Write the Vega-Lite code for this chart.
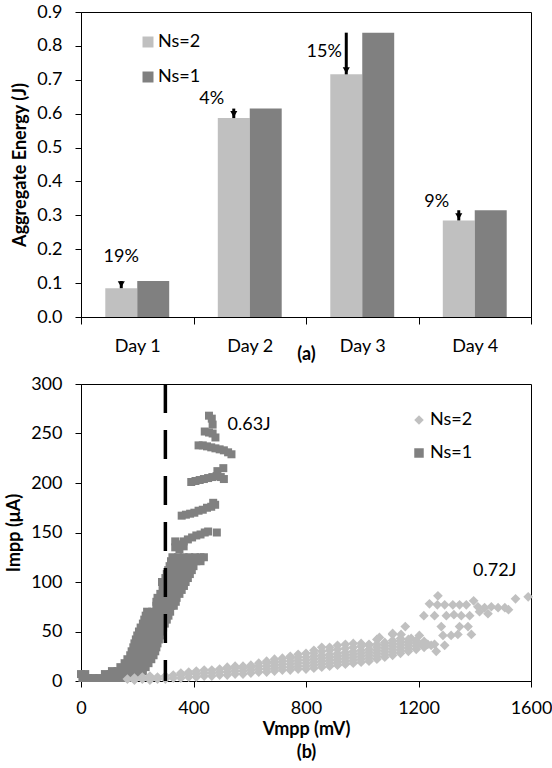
{
"$schema": "https://vega.github.io/schema/vega-lite/v6.json",
"padding": {"left": 5, "top": 2, "right": 0, "bottom": 0},
"bounds": "flush",
"spacing": 67,
"config": {
  "font": "Lato",
  "view": {"stroke": "#000", "strokeWidth": 1},
  "axis": {"labelFont": "Lato", "labelFontSize": 18, "labelColor": "#000", "titleFont": "Lato", "titleFontSize": 18, "titleFontWeight": "bold", "titleColor": "#000", "domainColor": "#000", "tickColor": "#000", "tickSize": 6, "labelPadding": 13, "grid": false, "labelOverlap": false},
  "legend": {"labelFont": "Lato", "labelFontSize": 18, "labelColor": "#000", "padding": 0, "symbolStrokeWidth": 0},
  "text": {"font": "Lato", "fontSize": 18, "color": "#000"}
},
"resolve": {"scale": {"color": "independent", "shape": "independent"}, "legend": {"color": "independent", "shape": "independent"}},
"datasets": {
  "bars": [
    {"Day": "Day 1", "Ns": "Ns=2", "E": 0.085}, {"Day": "Day 1", "Ns": "Ns=1", "E": 0.106},
    {"Day": "Day 2", "Ns": "Ns=2", "E": 0.587}, {"Day": "Day 2", "Ns": "Ns=1", "E": 0.615},
    {"Day": "Day 3", "Ns": "Ns=2", "E": 0.716}, {"Day": "Day 3", "Ns": "Ns=1", "E": 0.839},
    {"Day": "Day 4", "Ns": "Ns=2", "E": 0.285}, {"Day": "Day 4", "Ns": "Ns=1", "E": 0.315}
  ],
  "arrows": [
    {"Day": "Day 1", "Ns": "Ns=2", "from": 0.106, "to": 0.085},
    {"Day": "Day 2", "Ns": "Ns=2", "from": 0.615, "to": 0.587},
    {"Day": "Day 3", "Ns": "Ns=2", "from": 0.839, "to": 0.716},
    {"Day": "Day 4", "Ns": "Ns=2", "from": 0.315, "to": 0.285}
  ],
  "pct": [
    {"Day": "Day 1", "Ns": "Ns=2", "y": 0.176, "label": "19%"},
    {"Day": "Day 2", "Ns": "Ns=2", "y": 0.644, "label": "4%"},
    {"Day": "Day 3", "Ns": "Ns=2", "y": 0.783, "label": "15%"},
    {"Day": "Day 4", "Ns": "Ns=2", "y": 0.340, "label": "9%"}
  ],
  "vline": [{"V": 300}],
  "notes": [{"V": 521, "I": 259, "label": "0.63J"}, {"V": 1394, "I": 111, "label": "0.72J"}],
  "scatter": [
    {"Ns":"Ns=1","V":5,"I":3},{"Ns":"Ns=1","V":25,"I":3},{"Ns":"Ns=1","V":45,"I":3},{"Ns":"Ns=1","V":65,"I":3},{"Ns":"Ns=1","V":85,"I":3},{"Ns":"Ns=1","V":105,"I":3},{"Ns":"Ns=1","V":125,"I":3},{"Ns":"Ns=1","V":145,"I":3},{"Ns":"Ns=1","V":165,"I":3},{"Ns":"Ns=1","V":185,"I":3},
    {"Ns":"Ns=1","V":0,"I":7},{"Ns":"Ns=1","V":15,"I":7},{"Ns":"Ns=1","V":85,"I":7},{"Ns":"Ns=1","V":105,"I":7},{"Ns":"Ns=1","V":125,"I":7},{"Ns":"Ns=1","V":145,"I":7},{"Ns":"Ns=1","V":165,"I":7},{"Ns":"Ns=1","V":185,"I":7},{"Ns":"Ns=1","V":200,"I":7},
    {"Ns":"Ns=1","V":110,"I":10},{"Ns":"Ns=1","V":130,"I":10},{"Ns":"Ns=1","V":150,"I":10},{"Ns":"Ns=1","V":170,"I":10},{"Ns":"Ns=1","V":190,"I":10},{"Ns":"Ns=1","V":208,"I":10},{"Ns":"Ns=1","V":220,"I":10},
    {"Ns":"Ns=1","V":140,"I":14},{"Ns":"Ns=1","V":160,"I":14},{"Ns":"Ns=1","V":180,"I":14},{"Ns":"Ns=1","V":200,"I":14},{"Ns":"Ns=1","V":220,"I":14},{"Ns":"Ns=1","V":230,"I":14},
    {"Ns":"Ns=1","V":155,"I":18},{"Ns":"Ns=1","V":172,"I":18},{"Ns":"Ns=1","V":190,"I":18},{"Ns":"Ns=1","V":208,"I":18},{"Ns":"Ns=1","V":226,"I":18},{"Ns":"Ns=1","V":240,"I":18},
    {"Ns":"Ns=1","V":165,"I":22},{"Ns":"Ns=1","V":182,"I":22},{"Ns":"Ns=1","V":200,"I":22},{"Ns":"Ns=1","V":218,"I":22},{"Ns":"Ns=1","V":236,"I":22},{"Ns":"Ns=1","V":250,"I":22},
    {"Ns":"Ns=1","V":175,"I":26},{"Ns":"Ns=1","V":192,"I":26},{"Ns":"Ns=1","V":210,"I":26},{"Ns":"Ns=1","V":228,"I":26},{"Ns":"Ns=1","V":246,"I":26},{"Ns":"Ns=1","V":258,"I":26},
    {"Ns":"Ns=1","V":180,"I":30},{"Ns":"Ns=1","V":198,"I":30},{"Ns":"Ns=1","V":216,"I":30},{"Ns":"Ns=1","V":234,"I":30},{"Ns":"Ns=1","V":252,"I":30},{"Ns":"Ns=1","V":264,"I":30},
    {"Ns":"Ns=1","V":186,"I":34},{"Ns":"Ns=1","V":204,"I":34},{"Ns":"Ns=1","V":222,"I":34},{"Ns":"Ns=1","V":240,"I":34},{"Ns":"Ns=1","V":258,"I":34},{"Ns":"Ns=1","V":268,"I":34},
    {"Ns":"Ns=1","V":190,"I":38},{"Ns":"Ns=1","V":208,"I":38},{"Ns":"Ns=1","V":226,"I":38},{"Ns":"Ns=1","V":244,"I":38},{"Ns":"Ns=1","V":262,"I":38},{"Ns":"Ns=1","V":272,"I":38},
    {"Ns":"Ns=1","V":195,"I":42},{"Ns":"Ns=1","V":213,"I":42},{"Ns":"Ns=1","V":231,"I":42},{"Ns":"Ns=1","V":249,"I":42},{"Ns":"Ns=1","V":267,"I":42},{"Ns":"Ns=1","V":277,"I":42},
    {"Ns":"Ns=1","V":200,"I":46},{"Ns":"Ns=1","V":218,"I":46},{"Ns":"Ns=1","V":236,"I":46},{"Ns":"Ns=1","V":254,"I":46},{"Ns":"Ns=1","V":272,"I":46},{"Ns":"Ns=1","V":280,"I":46},
    {"Ns":"Ns=1","V":206,"I":50},{"Ns":"Ns=1","V":224,"I":50},{"Ns":"Ns=1","V":242,"I":50},{"Ns":"Ns=1","V":260,"I":50},{"Ns":"Ns=1","V":278,"I":50},{"Ns":"Ns=1","V":286,"I":50},
    {"Ns":"Ns=1","V":212,"I":54},{"Ns":"Ns=1","V":230,"I":54},{"Ns":"Ns=1","V":248,"I":54},{"Ns":"Ns=1","V":266,"I":54},{"Ns":"Ns=1","V":284,"I":54},{"Ns":"Ns=1","V":292,"I":54},
    {"Ns":"Ns=1","V":220,"I":58},{"Ns":"Ns=1","V":238,"I":58},{"Ns":"Ns=1","V":256,"I":58},{"Ns":"Ns=1","V":274,"I":58},{"Ns":"Ns=1","V":292,"I":58},{"Ns":"Ns=1","V":298,"I":58},
    {"Ns":"Ns=1","V":225,"I":62},{"Ns":"Ns=1","V":243,"I":62},{"Ns":"Ns=1","V":261,"I":62},{"Ns":"Ns=1","V":279,"I":62},{"Ns":"Ns=1","V":297,"I":62},{"Ns":"Ns=1","V":305,"I":62},
    {"Ns":"Ns=1","V":230,"I":66},{"Ns":"Ns=1","V":248,"I":66},{"Ns":"Ns=1","V":266,"I":66},{"Ns":"Ns=1","V":284,"I":66},{"Ns":"Ns=1","V":302,"I":66},{"Ns":"Ns=1","V":311,"I":66},
    {"Ns":"Ns=1","V":235,"I":70},{"Ns":"Ns=1","V":253,"I":70},{"Ns":"Ns=1","V":271,"I":70},{"Ns":"Ns=1","V":289,"I":70},{"Ns":"Ns=1","V":307,"I":70},{"Ns":"Ns=1","V":317,"I":70},
    {"Ns":"Ns=1","V":268,"I":76},{"Ns":"Ns=1","V":285,"I":76},{"Ns":"Ns=1","V":303,"I":76},{"Ns":"Ns=1","V":321,"I":76},{"Ns":"Ns=1","V":330,"I":76},
    {"Ns":"Ns=1","V":268,"I":80},{"Ns":"Ns=1","V":285,"I":80},{"Ns":"Ns=1","V":303,"I":80},{"Ns":"Ns=1","V":321,"I":80},{"Ns":"Ns=1","V":337,"I":80},
    {"Ns":"Ns=1","V":272,"I":84},{"Ns":"Ns=1","V":290,"I":84},{"Ns":"Ns=1","V":308,"I":84},{"Ns":"Ns=1","V":326,"I":84},{"Ns":"Ns=1","V":340,"I":84},
    {"Ns":"Ns=1","V":282,"I":88},{"Ns":"Ns=1","V":300,"I":88},{"Ns":"Ns=1","V":318,"I":88},{"Ns":"Ns=1","V":336,"I":88},{"Ns":"Ns=1","V":350,"I":88},
    {"Ns":"Ns=1","V":290,"I":92},{"Ns":"Ns=1","V":308,"I":92},{"Ns":"Ns=1","V":326,"I":92},{"Ns":"Ns=1","V":344,"I":92},{"Ns":"Ns=1","V":358,"I":92},
    {"Ns":"Ns=1","V":294,"I":96},{"Ns":"Ns=1","V":312,"I":96},{"Ns":"Ns=1","V":330,"I":96},{"Ns":"Ns=1","V":348,"I":96},{"Ns":"Ns=1","V":366,"I":96},
    {"Ns":"Ns=1","V":288,"I":100},{"Ns":"Ns=1","V":300,"I":100},{"Ns":"Ns=1","V":318,"I":100},{"Ns":"Ns=1","V":336,"I":100},{"Ns":"Ns=1","V":354,"I":100},{"Ns":"Ns=1","V":372,"I":100},
    {"Ns":"Ns=1","V":300,"I":104},{"Ns":"Ns=1","V":318,"I":104},{"Ns":"Ns=1","V":336,"I":104},{"Ns":"Ns=1","V":354,"I":104},{"Ns":"Ns=1","V":372,"I":104},{"Ns":"Ns=1","V":380,"I":104},
    {"Ns":"Ns=1","V":305,"I":108},{"Ns":"Ns=1","V":323,"I":108},{"Ns":"Ns=1","V":341,"I":108},{"Ns":"Ns=1","V":359,"I":108},{"Ns":"Ns=1","V":377,"I":108},{"Ns":"Ns=1","V":387,"I":108},
    {"Ns":"Ns=1","V":310,"I":112},{"Ns":"Ns=1","V":328,"I":112},{"Ns":"Ns=1","V":346,"I":112},{"Ns":"Ns=1","V":364,"I":112},{"Ns":"Ns=1","V":382,"I":112},{"Ns":"Ns=1","V":394,"I":112},
    {"Ns":"Ns=1","V":315,"I":116},{"Ns":"Ns=1","V":333,"I":116},{"Ns":"Ns=1","V":351,"I":116},{"Ns":"Ns=1","V":369,"I":116},{"Ns":"Ns=1","V":387,"I":116},{"Ns":"Ns=1","V":400,"I":116},
    {"Ns":"Ns=1","V":320,"I":121},{"Ns":"Ns=1","V":338,"I":121},{"Ns":"Ns=1","V":356,"I":121},{"Ns":"Ns=1","V":374,"I":121},{"Ns":"Ns=1","V":392,"I":121},{"Ns":"Ns=1","V":410,"I":121},{"Ns":"Ns=1","V":425,"I":121},
    {"Ns":"Ns=1","V":325,"I":125},{"Ns":"Ns=1","V":345,"I":125},{"Ns":"Ns=1","V":365,"I":125},{"Ns":"Ns=1","V":385,"I":125},{"Ns":"Ns=1","V":405,"I":125},{"Ns":"Ns=1","V":425,"I":125},{"Ns":"Ns=1","V":437,"I":125},
    {"Ns":"Ns=1","V":335,"I":135},{"Ns":"Ns=1","V":335,"I":141},{"Ns":"Ns=1","V":350,"I":133},{"Ns":"Ns=1","V":350,"I":138},{"Ns":"Ns=1","V":365,"I":136},{"Ns":"Ns=1","V":365,"I":141},{"Ns":"Ns=1","V":380,"I":143},{"Ns":"Ns=1","V":395,"I":145},{"Ns":"Ns=1","V":410,"I":147},{"Ns":"Ns=1","V":425,"I":148},{"Ns":"Ns=1","V":440,"I":150},{"Ns":"Ns=1","V":452,"I":151},{"Ns":"Ns=1","V":483,"I":150},
    {"Ns":"Ns=1","V":358,"I":167},{"Ns":"Ns=1","V":373,"I":168},{"Ns":"Ns=1","V":388,"I":169},{"Ns":"Ns=1","V":403,"I":170},{"Ns":"Ns=1","V":418,"I":172},{"Ns":"Ns=1","V":433,"I":173},{"Ns":"Ns=1","V":448,"I":175},{"Ns":"Ns=1","V":463,"I":176},{"Ns":"Ns=1","V":477,"I":178},{"Ns":"Ns=1","V":470,"I":180},
    {"Ns":"Ns=1","V":392,"I":201},{"Ns":"Ns=1","V":407,"I":202},{"Ns":"Ns=1","V":422,"I":203},{"Ns":"Ns=1","V":437,"I":204},{"Ns":"Ns=1","V":452,"I":205},{"Ns":"Ns=1","V":467,"I":206},{"Ns":"Ns=1","V":482,"I":207},{"Ns":"Ns=1","V":497,"I":206},{"Ns":"Ns=1","V":508,"I":204},{"Ns":"Ns=1","V":485,"I":212},{"Ns":"Ns=1","V":506,"I":215},
    {"Ns":"Ns=1","V":418,"I":238},{"Ns":"Ns=1","V":433,"I":238},{"Ns":"Ns=1","V":448,"I":237},{"Ns":"Ns=1","V":463,"I":236},{"Ns":"Ns=1","V":478,"I":235},{"Ns":"Ns=1","V":493,"I":234},{"Ns":"Ns=1","V":508,"I":233},{"Ns":"Ns=1","V":523,"I":231},{"Ns":"Ns=1","V":535,"I":229},
    {"Ns":"Ns=1","V":455,"I":268},{"Ns":"Ns=1","V":465,"I":265},{"Ns":"Ns=1","V":468,"I":259},{"Ns":"Ns=1","V":440,"I":252},{"Ns":"Ns=1","V":455,"I":251},{"Ns":"Ns=1","V":468,"I":250},{"Ns":"Ns=1","V":478,"I":246},

    {"Ns":"Ns=2","V":165,"I":2},{"Ns":"Ns=2","V":190,"I":1},{"Ns":"Ns=2","V":190,"I":3},{"Ns":"Ns=2","V":218,"I":2},{"Ns":"Ns=2","V":218,"I":4},{"Ns":"Ns=2","V":245,"I":1},{"Ns":"Ns=2","V":245,"I":3},{"Ns":"Ns=2","V":245,"I":5},
    {"Ns":"Ns=2","V":272,"I":2},{"Ns":"Ns=2","V":272,"I":4},{"Ns":"Ns=2","V":300,"I":2},{"Ns":"Ns=2","V":300,"I":5},{"Ns":"Ns=2","V":328,"I":3},{"Ns":"Ns=2","V":328,"I":6},
    {"Ns":"Ns=2","V":355,"I":3},{"Ns":"Ns=2","V":355,"I":6},{"Ns":"Ns=2","V":355,"I":8},{"Ns":"Ns=2","V":383,"I":4},{"Ns":"Ns=2","V":383,"I":7},{"Ns":"Ns=2","V":383,"I":9},
    {"Ns":"Ns=2","V":410,"I":4},{"Ns":"Ns=2","V":410,"I":7},{"Ns":"Ns=2","V":410,"I":10},{"Ns":"Ns=2","V":438,"I":5},{"Ns":"Ns=2","V":438,"I":8},{"Ns":"Ns=2","V":438,"I":11},
    {"Ns":"Ns=2","V":465,"I":5},{"Ns":"Ns=2","V":465,"I":8},{"Ns":"Ns=2","V":465,"I":11},{"Ns":"Ns=2","V":493,"I":6},{"Ns":"Ns=2","V":493,"I":9},{"Ns":"Ns=2","V":493,"I":12},
    {"Ns":"Ns=2","V":520,"I":6},{"Ns":"Ns=2","V":520,"I":9},{"Ns":"Ns=2","V":520,"I":12},{"Ns":"Ns=2","V":520,"I":14},
    {"Ns":"Ns=2","V":548,"I":7},{"Ns":"Ns=2","V":548,"I":10},{"Ns":"Ns=2","V":548,"I":13},{"Ns":"Ns=2","V":548,"I":15},
    {"Ns":"Ns=2","V":576,"I":7},{"Ns":"Ns=2","V":576,"I":10},{"Ns":"Ns=2","V":576,"I":13},{"Ns":"Ns=2","V":576,"I":15},
    {"Ns":"Ns=2","V":604,"I":8},{"Ns":"Ns=2","V":604,"I":11},{"Ns":"Ns=2","V":604,"I":14},{"Ns":"Ns=2","V":604,"I":16},
    {"Ns":"Ns=2","V":632,"I":9},{"Ns":"Ns=2","V":632,"I":12},{"Ns":"Ns=2","V":632,"I":15},{"Ns":"Ns=2","V":632,"I":18},
    {"Ns":"Ns=2","V":660,"I":9},{"Ns":"Ns=2","V":660,"I":12},{"Ns":"Ns=2","V":660,"I":15},{"Ns":"Ns=2","V":660,"I":18},{"Ns":"Ns=2","V":660,"I":20},
    {"Ns":"Ns=2","V":688,"I":10},{"Ns":"Ns=2","V":688,"I":13},{"Ns":"Ns=2","V":688,"I":16},{"Ns":"Ns=2","V":688,"I":19},{"Ns":"Ns=2","V":688,"I":22},
    {"Ns":"Ns=2","V":716,"I":11},{"Ns":"Ns=2","V":716,"I":14},{"Ns":"Ns=2","V":716,"I":17},{"Ns":"Ns=2","V":716,"I":20},{"Ns":"Ns=2","V":716,"I":23},
    {"Ns":"Ns=2","V":744,"I":11},{"Ns":"Ns=2","V":744,"I":14},{"Ns":"Ns=2","V":744,"I":17},{"Ns":"Ns=2","V":744,"I":20},{"Ns":"Ns=2","V":744,"I":23},{"Ns":"Ns=2","V":744,"I":25},
    {"Ns":"Ns=2","V":772,"I":12},{"Ns":"Ns=2","V":772,"I":15},{"Ns":"Ns=2","V":772,"I":18},{"Ns":"Ns=2","V":772,"I":21},{"Ns":"Ns=2","V":772,"I":24},{"Ns":"Ns=2","V":772,"I":27},
    {"Ns":"Ns=2","V":800,"I":12},{"Ns":"Ns=2","V":800,"I":15},{"Ns":"Ns=2","V":800,"I":18},{"Ns":"Ns=2","V":800,"I":21},{"Ns":"Ns=2","V":800,"I":24},{"Ns":"Ns=2","V":800,"I":28},
    {"Ns":"Ns=2","V":828,"I":13},{"Ns":"Ns=2","V":828,"I":16},{"Ns":"Ns=2","V":828,"I":19},{"Ns":"Ns=2","V":828,"I":22},{"Ns":"Ns=2","V":828,"I":25},{"Ns":"Ns=2","V":828,"I":28},{"Ns":"Ns=2","V":828,"I":31},
    {"Ns":"Ns=2","V":856,"I":14},{"Ns":"Ns=2","V":856,"I":17},{"Ns":"Ns=2","V":856,"I":20},{"Ns":"Ns=2","V":856,"I":23},{"Ns":"Ns=2","V":856,"I":26},{"Ns":"Ns=2","V":856,"I":30},{"Ns":"Ns=2","V":856,"I":34},
    {"Ns":"Ns=2","V":884,"I":15},{"Ns":"Ns=2","V":884,"I":18},{"Ns":"Ns=2","V":884,"I":21},{"Ns":"Ns=2","V":884,"I":24},{"Ns":"Ns=2","V":884,"I":27},{"Ns":"Ns=2","V":884,"I":31},{"Ns":"Ns=2","V":884,"I":34},
    {"Ns":"Ns=2","V":912,"I":16},{"Ns":"Ns=2","V":912,"I":19},{"Ns":"Ns=2","V":912,"I":22},{"Ns":"Ns=2","V":912,"I":25},{"Ns":"Ns=2","V":912,"I":28},{"Ns":"Ns=2","V":912,"I":32},{"Ns":"Ns=2","V":912,"I":36},
    {"Ns":"Ns=2","V":940,"I":17},{"Ns":"Ns=2","V":940,"I":20},{"Ns":"Ns=2","V":940,"I":23},{"Ns":"Ns=2","V":940,"I":26},{"Ns":"Ns=2","V":940,"I":29},{"Ns":"Ns=2","V":940,"I":33},{"Ns":"Ns=2","V":940,"I":37},
    {"Ns":"Ns=2","V":968,"I":18},{"Ns":"Ns=2","V":968,"I":21},{"Ns":"Ns=2","V":968,"I":24},{"Ns":"Ns=2","V":968,"I":27},{"Ns":"Ns=2","V":968,"I":30},{"Ns":"Ns=2","V":968,"I":34},{"Ns":"Ns=2","V":968,"I":38},
    {"Ns":"Ns=2","V":996,"I":19},{"Ns":"Ns=2","V":996,"I":22},{"Ns":"Ns=2","V":996,"I":25},{"Ns":"Ns=2","V":996,"I":28},{"Ns":"Ns=2","V":996,"I":31},{"Ns":"Ns=2","V":996,"I":35},{"Ns":"Ns=2","V":996,"I":38},
    {"Ns":"Ns=2","V":1024,"I":20},{"Ns":"Ns=2","V":1024,"I":23},{"Ns":"Ns=2","V":1024,"I":26},{"Ns":"Ns=2","V":1024,"I":29},{"Ns":"Ns=2","V":1024,"I":32},{"Ns":"Ns=2","V":1024,"I":36},{"Ns":"Ns=2","V":1024,"I":37},
    {"Ns":"Ns=2","V":1052,"I":22},{"Ns":"Ns=2","V":1052,"I":25},{"Ns":"Ns=2","V":1052,"I":28},{"Ns":"Ns=2","V":1052,"I":31},{"Ns":"Ns=2","V":1052,"I":34},{"Ns":"Ns=2","V":1052,"I":37},{"Ns":"Ns=2","V":1052,"I":42},
    {"Ns":"Ns=2","V":1080,"I":24},{"Ns":"Ns=2","V":1080,"I":27},{"Ns":"Ns=2","V":1080,"I":30},{"Ns":"Ns=2","V":1080,"I":33},{"Ns":"Ns=2","V":1080,"I":36},{"Ns":"Ns=2","V":1080,"I":39},
    {"Ns":"Ns=2","V":1108,"I":26},{"Ns":"Ns=2","V":1108,"I":29},{"Ns":"Ns=2","V":1108,"I":32},{"Ns":"Ns=2","V":1108,"I":35},{"Ns":"Ns=2","V":1108,"I":38},{"Ns":"Ns=2","V":1108,"I":41},{"Ns":"Ns=2","V":1108,"I":47},
    {"Ns":"Ns=2","V":1136,"I":28},{"Ns":"Ns=2","V":1136,"I":31},{"Ns":"Ns=2","V":1136,"I":34},{"Ns":"Ns=2","V":1136,"I":37},{"Ns":"Ns=2","V":1136,"I":40},{"Ns":"Ns=2","V":1136,"I":43},
    {"Ns":"Ns=2","V":1164,"I":30},{"Ns":"Ns=2","V":1164,"I":33},{"Ns":"Ns=2","V":1164,"I":36},{"Ns":"Ns=2","V":1164,"I":39},{"Ns":"Ns=2","V":1164,"I":42},
    {"Ns":"Ns=2","V":1192,"I":32},{"Ns":"Ns=2","V":1192,"I":35},{"Ns":"Ns=2","V":1192,"I":38},{"Ns":"Ns=2","V":1192,"I":41},
    {"Ns":"Ns=2","V":1220,"I":34},{"Ns":"Ns=2","V":1220,"I":37},{"Ns":"Ns=2","V":1220,"I":40},{"Ns":"Ns=2","V":1245,"I":36},
    {"Ns":"Ns=2","V":1269,"I":86},{"Ns":"Ns=2","V":1239,"I":78},{"Ns":"Ns=2","V":1267,"I":77},{"Ns":"Ns=2","V":1293,"I":77},{"Ns":"Ns=2","V":1322,"I":77},{"Ns":"Ns=2","V":1346,"I":77},{"Ns":"Ns=2","V":1370,"I":77},{"Ns":"Ns=2","V":1396,"I":81},{"Ns":"Ns=2","V":1411,"I":75},{"Ns":"Ns=2","V":1435,"I":74},{"Ns":"Ns=2","V":1459,"I":75},{"Ns":"Ns=2","V":1483,"I":74},{"Ns":"Ns=2","V":1507,"I":74},{"Ns":"Ns=2","V":1520,"I":72},{"Ns":"Ns=2","V":1545,"I":83},{"Ns":"Ns=2","V":1590,"I":85},
    {"Ns":"Ns=2","V":1219,"I":66},{"Ns":"Ns=2","V":1257,"I":66},{"Ns":"Ns=2","V":1299,"I":66},{"Ns":"Ns=2","V":1326,"I":67},{"Ns":"Ns=2","V":1352,"I":66},{"Ns":"Ns=2","V":1382,"I":66},{"Ns":"Ns=2","V":1417,"I":70},{"Ns":"Ns=2","V":1447,"I":68},
    {"Ns":"Ns=2","V":1153,"I":55},{"Ns":"Ns=2","V":1281,"I":55},{"Ns":"Ns=2","V":1346,"I":55},{"Ns":"Ns=2","V":1376,"I":55},
    {"Ns":"Ns=2","V":1287,"I":46},{"Ns":"Ns=2","V":1316,"I":46},{"Ns":"Ns=2","V":1340,"I":47},{"Ns":"Ns=2","V":1388,"I":47},
    {"Ns":"Ns=2","V":1257,"I":37},{"Ns":"Ns=2","V":1293,"I":36},{"Ns":"Ns=2","V":1263,"I":30},
    {"Ns":"Ns=2","V":1061,"I":44},{"Ns":"Ns=2","V":1108,"I":48},{"Ns":"Ns=2","V":1138,"I":47},{"Ns":"Ns=2","V":1203,"I":46},{"Ns":"Ns=2","V":1174,"I":43},{"Ns":"Ns=2","V":1210,"I":37},{"Ns":"Ns=2","V":1233,"I":37}
  ]
},
"vconcat": [
  {
    "width": 450,
    "height": 305,
    "encoding": {
      "x": {"field": "Day", "type": "nominal", "scale": {"paddingInner": 0, "paddingOuter": 0}, "axis": {"title": "(a)", "labelAngle": 0, "tickBand": "extent", "tickSize": 7, "titleY": 28, "titleBaseline": "top"}},
      "xOffset": {"field": "Ns", "type": "nominal", "scale": {"domain": ["Ns=2", "Ns=1"], "paddingInner": 0, "paddingOuter": 0.76}}
    },
    "layer": [
      {
        "data": {"name": "bars"},
        "mark": {"type": "bar"},
        "encoding": {
          "y": {"field": "E", "type": "quantitative", "scale": {"domain": [0, 0.9], "nice": false}, "axis": {"title": "Aggregate Energy (J)", "values": [0, 0.1, 0.2, 0.3, 0.4, 0.5, 0.6, 0.7, 0.8, 0.9], "format": ".1f", "titlePadding": 7}},
          "color": {"field": "Ns", "type": "nominal", "scale": {"domain": ["Ns=2", "Ns=1"], "range": ["#c0c0c0", "#808080"]}, "legend": {"orient": "none", "legendX": 58, "legendY": 21, "title": null, "symbolType": "square", "symbolSize": 121, "rowPadding": 17, "labelOffset": 1}}
        }
      },
      {
        "data": {"name": "arrows"},
        "mark": {"type": "rule", "strokeWidth": 3, "color": "#000"},
        "encoding": {
          "y": {"field": "from", "type": "quantitative", "axis": {"title": "Aggregate Energy (J)", "values": [0, 0.1, 0.2, 0.3, 0.4, 0.5, 0.6, 0.7, 0.8, 0.9], "format": ".1f", "titlePadding": 7}},
          "y2": {"field": "to"}
        }
      },
      {
        "data": {"name": "arrows"},
        "mark": {"type": "point", "shape": "triangle-down", "filled": true, "color": "#000", "opacity": 1, "size": 50, "yOffset": -4},
        "encoding": {
          "y": {"field": "to", "type": "quantitative", "axis": {"title": "Aggregate Energy (J)", "values": [0, 0.1, 0.2, 0.3, 0.4, 0.5, 0.6, 0.7, 0.8, 0.9], "format": ".1f", "titlePadding": 7}}
        }
      },
      {
        "data": {"name": "pct"},
        "transform": [{"filter": "datum.label == '19%'"}],
        "mark": {"type": "text", "baseline": "middle"},
        "encoding": {
          "y": {"field": "y", "type": "quantitative", "axis": {"title": "Aggregate Energy (J)", "values": [0, 0.1, 0.2, 0.3, 0.4, 0.5, 0.6, 0.7, 0.8, 0.9], "format": ".1f", "titlePadding": 7}},
          "text": {"field": "label"}
        }
      },
      {
        "data": {"name": "pct"},
        "transform": [{"filter": "datum.label != '19%'"}],
        "mark": {"type": "text", "baseline": "middle", "dx": -22},
        "encoding": {
          "y": {"field": "y", "type": "quantitative", "axis": {"title": "Aggregate Energy (J)", "values": [0, 0.1, 0.2, 0.3, 0.4, 0.5, 0.6, 0.7, 0.8, 0.9], "format": ".1f", "titlePadding": 7}},
          "text": {"field": "label"}
        }
      }
    ]
  },
  {
    "width": 450,
    "height": 297,
    "layer": [
      {
        "data": {"name": "scatter"},
        "mark": {"type": "point", "filled": true, "opacity": 1},
        "encoding": {
          "x": {"field": "V", "type": "quantitative", "scale": {"domain": [0, 1600], "nice": false}, "axis": {"values": [0, 400, 800, 1200, 1600], "format": "d", "title": ["Vmpp (mV)", "(b)"], "labelFlush": false, "labelPadding": 12, "titleY": 39, "titleBaseline": "top", "titleLineHeight": 23}},
          "y": {"field": "I", "type": "quantitative", "scale": {"domain": [0, 300], "nice": false}, "axis": {"values": [0, 50, 100, 150, 200, 250, 300], "title": "Impp (μA)", "titlePadding": 7}},
          "size": {"field": "Ns", "type": "nominal", "scale": {"domain": ["Ns=2", "Ns=1"], "range": [95, 64]}, "legend": null},
          "color": {"field": "Ns", "type": "nominal", "scale": {"domain": ["Ns=2", "Ns=1"], "range": ["#c0c0c0", "#808080"]}, "legend": {"orient": "none", "legendX": 329, "legendY": 27, "title": null, "symbolSize": 90, "rowPadding": 15, "labelOffset": 2}},
          "shape": {"field": "Ns", "type": "nominal", "scale": {"domain": ["Ns=2", "Ns=1"], "range": ["diamond", "square"]}, "legend": {"orient": "none", "legendX": 329, "legendY": 27, "title": null, "symbolSize": 90, "rowPadding": 15, "labelOffset": 2}}
        }
      },
      {
        "data": {"name": "vline"},
        "mark": {"type": "rule", "strokeWidth": 3.5, "strokeDash": [29, 17], "color": "#000"},
        "encoding": {"x": {"field": "V", "type": "quantitative"}}
      },
      {
        "data": {"name": "notes"},
        "mark": {"type": "text", "align": "left", "baseline": "middle"},
        "encoding": {
          "x": {"field": "V", "type": "quantitative"},
          "y": {"field": "I", "type": "quantitative"},
          "text": {"field": "label"}
        }
      }
    ]
  }
]
}
